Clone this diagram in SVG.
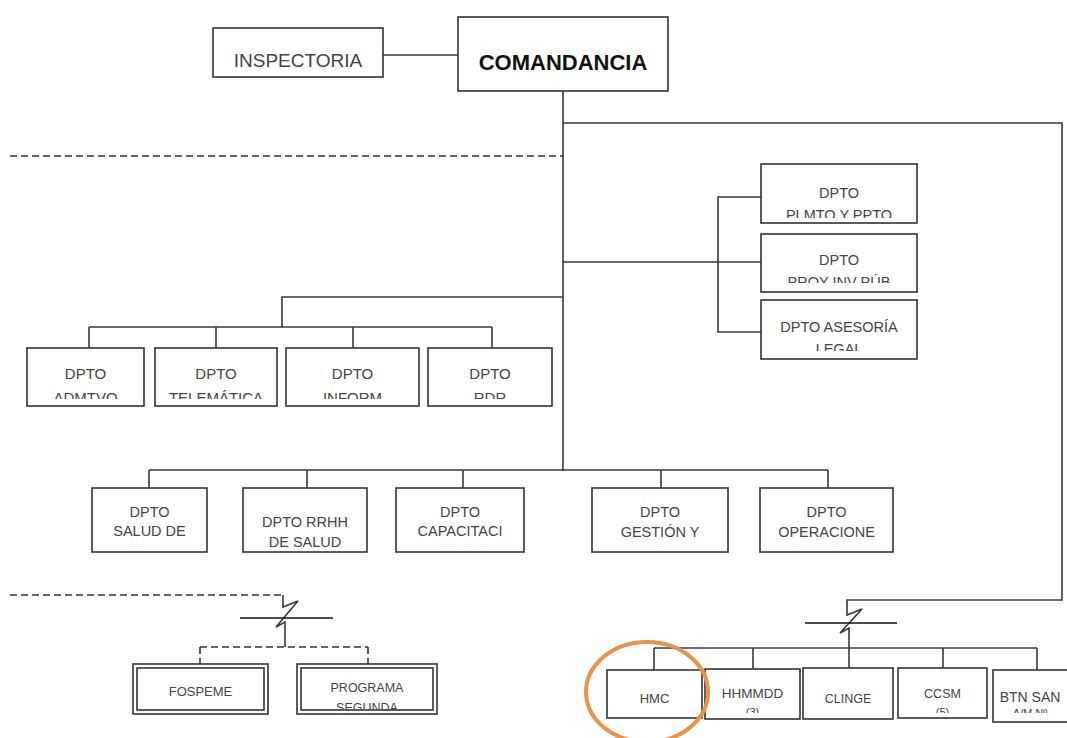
<svg xmlns="http://www.w3.org/2000/svg" width="1067" height="738" viewBox="0 0 1067 738">
<style>
.box{fill:#fff;stroke:#333;stroke-width:1.6}
.ln{fill:none;stroke:#3a3a3a;stroke-width:1.6}
.dash{fill:none;stroke:#333;stroke-width:1.6;stroke-dasharray:7 4}
.brk{fill:none;stroke:#111;stroke-width:1.6}
text{font-family:"Liberation Sans",Arial,sans-serif;fill:#444;text-anchor:middle}
.t15{font-size:15px}
.t14{font-size:14.5px}
.t13{font-size:13px}
</style>
<defs>
<clipPath id="c1"><rect x="27" y="350" width="525" height="49"/></clipPath>
<clipPath id="cA"><rect x="762" y="166" width="155" height="52"/></clipPath>
<clipPath id="cB"><rect x="762" y="236" width="155" height="47"/></clipPath>
<clipPath id="cC"><rect x="762" y="302" width="155" height="49"/></clipPath>
<clipPath id="cR"><rect x="600" y="672" width="467" height="41"/></clipPath>
<clipPath id="cP"><rect x="300" y="667" width="135" height="42"/></clipPath>
</defs>
<rect width="1067" height="738" fill="#fff"/>
<g id="connectors">
<path class="ln" d="M383,55 H458"/>
<path class="ln" d="M563,91 V471"/>
<path class="ln" d="M563,123 H1062 V600 H847 V615 L862,609 L840,633 L849,628 V670"/>
<path class="brk" d="M805,623 H897"/>
<path class="ln" d="M654,648 H1037 M654,648 V670 M753,648 V669 M943,648 V668 M1037,648 V670"/>
<path class="dash" d="M10,156 H563"/>
<path class="ln" d="M563,262 H761 M761,197 H718 V332 H761"/>
<path class="ln" d="M563,297 H282 V327 M89,327 H492 M89,327 V348 M216,327 V348 M353,327 V348 M492,327 V348"/>
<path class="ln" d="M149,470 H828 M149,470 V488 M307,470 V488 M463,470 V488 M661,470 V488 M828,470 V488"/>
<path class="dash" d="M10,595 H283"/>
<path class="ln" d="M283,595 V607 L298,601 L276,627 L285,622 V647"/>
<path class="brk" d="M240,618 H333"/>
<path class="dash" d="M200,647 H368 M200,647 V664 M368,647 V664"/>
</g>
<g id="inspectoria"><rect class="box" x="213" y="28" width="170" height="49"/><text x="298" y="67" style="font-size:19px">INSPECTORIA</text></g>
<g id="comandancia"><rect class="box" x="458" y="17" width="210" height="74"/><text x="563" y="70" style="font-size:22px;font-weight:bold;fill:#111">COMANDANCIA</text></g>
<g id="plmto"><rect class="box" x="761" y="164" width="156" height="59"/><g clip-path="url(#cA)"><text class="t14" x="839" y="198">DPTO</text><text class="t14" x="839" y="220">PLMTO Y PPTO</text></g></g>
<g id="proy"><rect class="box" x="761" y="234" width="156" height="58"/><g clip-path="url(#cB)"><text class="t14" x="839" y="265">DPTO</text><text class="t14" x="839" y="287">PROY INV PÚB</text></g></g>
<g id="asesoria"><rect class="box" x="761" y="300" width="156" height="59"/><g clip-path="url(#cC)"><text class="t14" x="839" y="332">DPTO ASESORÍA</text><text class="t14" x="839" y="354">LEGAL</text></g></g>
<g id="admtvo"><rect class="box" x="27" y="348" width="117" height="58"/><g clip-path="url(#c1)"><text class="t15" x="85.5" y="379">DPTO</text><text class="t15" x="85.5" y="403">ADMTVO</text></g></g>
<g id="telematica"><rect class="box" x="155" y="348" width="122" height="58"/><g clip-path="url(#c1)"><text class="t15" x="216" y="379">DPTO</text><text class="t15" x="216" y="403">TELEMÁTICA</text></g></g>
<g id="inform"><rect class="box" x="286" y="348" width="133" height="58"/><g clip-path="url(#c1)"><text class="t15" x="352.5" y="379">DPTO</text><text class="t15" x="352.5" y="403">INFORM</text></g></g>
<g id="rdr"><rect class="box" x="428" y="348" width="124" height="58"/><g clip-path="url(#c1)"><text class="t15" x="490" y="379">DPTO</text><text class="t15" x="490" y="403">RDR</text></g></g>
<g id="salud"><rect class="box" x="92" y="488" width="115" height="64"/><text class="t14" x="149.5" y="517">DPTO</text><text class="t14" x="149.5" y="536">SALUD DE</text></g>
<g id="rrhh"><rect class="box" x="243" y="488" width="124" height="64"/><text class="t14" x="305" y="527">DPTO RRHH</text><text class="t14" x="305" y="547">DE SALUD</text></g>
<g id="capacitaci"><rect class="box" x="396" y="488" width="128" height="64"/><text class="t14" x="460" y="517">DPTO</text><text class="t14" x="460" y="536">CAPACITACI</text></g>
<g id="gestion"><rect class="box" x="592" y="488" width="136" height="64"/><text class="t14" x="660" y="517">DPTO</text><text class="t14" x="660" y="537">GESTIÓN Y</text></g>
<g id="operaciones"><rect class="box" x="760" y="488" width="133" height="64"/><text class="t14" x="826.5" y="517">DPTO</text><text class="t14" x="826.5" y="537">OPERACIONE</text></g>
<g id="fospeme"><rect class="box" x="133" y="664" width="135" height="50"/><rect class="box" x="137" y="668" width="127" height="42"/><text class="t13" x="200.5" y="696">FOSPEME</text></g>
<g id="programa"><rect class="box" x="297" y="664" width="140" height="50"/><rect class="box" x="301" y="668" width="132" height="42"/><g clip-path="url(#cP)"><text x="367" y="692" style="font-size:12.5px">PROGRAMA</text><text x="367" y="712" style="font-size:12.5px">SEGUNDA</text></g></g>
<g id="hmc"><rect class="box" x="607" y="670" width="95" height="48"/><text class="t13" x="654.5" y="703">HMC</text></g>
<g id="hhmmdd"><rect class="box" x="705" y="669" width="95" height="50"/><g clip-path="url(#cR)"><text x="752.5" y="698" style="font-size:13.5px">HHMMDD</text><text x="752.5" y="716" style="font-size:11px">(3)</text></g></g>
<g id="clinge"><rect class="box" x="803" y="668" width="90" height="51"/><text x="848" y="703" style="font-size:12.5px">CLINGE</text></g>
<g id="ccsm"><rect class="box" x="898" y="668" width="89" height="50"/><g clip-path="url(#cR)"><text x="942.5" y="698" style="font-size:12.5px">CCSM</text><text x="942.5" y="716" style="font-size:11px">(5)</text></g></g>
<g id="btnsan"><rect class="box" x="993" y="670" width="84" height="52"/><g clip-path="url(#cR)"><text x="1030" y="702" style="font-size:14px">BTN SAN</text><text x="1030" y="717" style="font-size:11px">A/M Nº</text></g></g>
<ellipse id="highlight" cx="647" cy="692" rx="61" ry="50" fill="none" stroke="#E8944A" stroke-width="4"/>
</svg>
